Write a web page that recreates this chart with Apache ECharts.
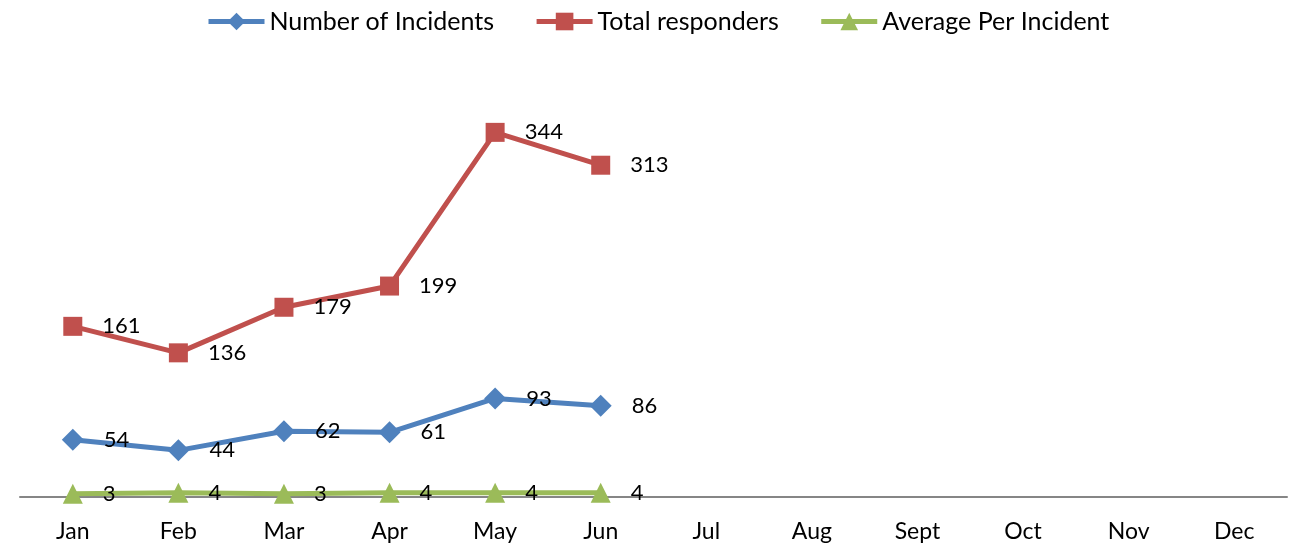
<!DOCTYPE html>
<html><head><meta charset="utf-8">
<script src="https://cdn.jsdelivr.net/npm/echarts@6/dist/echarts.min.js"></script>
<style>html,body{margin:0;padding:0;background:#fff}#c{width:1291px;height:548px}</style>
</head><body><div id="c"></div>
<script>
var months = ['Jan','Feb','Mar','Apr','May','Jun','Jul','Aug','Sept','Oct','Nov','Dec'];
var incidents = [54, 44, 62, 61, 93, 86];
var responders = [161, 136, 179, 199, 344, 313];
var average = [3, 4, 3, 4, 4, 4];

var FONT = 'Lato';
function mk(name, data, color, symbol, size) {
  return {
    name: name, type: 'line', data: data,
    symbol: symbol, symbolSize: size,
    lineStyle: {color: color, width: 5},
    itemStyle: {color: color},
    label: {show: true, position: 'right', distance: 20, color: '#000', fontFamily: FONT, fontSize: 22},
    animation: false
  };
}
var chart = echarts.init(document.getElementById('c'));
chart.setOption({
  animation: false,
  legend: {
    top: 4, left: 201, itemWidth: 56, itemHeight: 22, itemGap: 40,
    lineStyle: {width: 5},
    textStyle: {fontFamily: FONT, fontSize: 25, color: '#000'},
    data: ['Number of Incidents', 'Total responders', 'Average Per Incident']
  },
  grid: {left: 20, right: 4, top: 73, bottom: 51},
  xAxis: {
    type: 'category', data: months, boundaryGap: true,
    axisLine: {lineStyle: {color: '#868686', width: 2}},
    axisTick: {show: false},
    axisLabel: {fontFamily: FONT, fontSize: 23, color: '#000', margin: 23}
  },
  yAxis: {type: 'value', min: 0, max: 400, show: false, splitLine: {show: false}},
  series: [
    mk('Number of Incidents', incidents, '#4F81BD', 'diamond', 22),
    mk('Total responders', responders, '#C0504D', 'rect', 19),
    mk('Average Per Incident', average, '#9BBB59', 'triangle', 20)
  ]
});
</script></body></html>
